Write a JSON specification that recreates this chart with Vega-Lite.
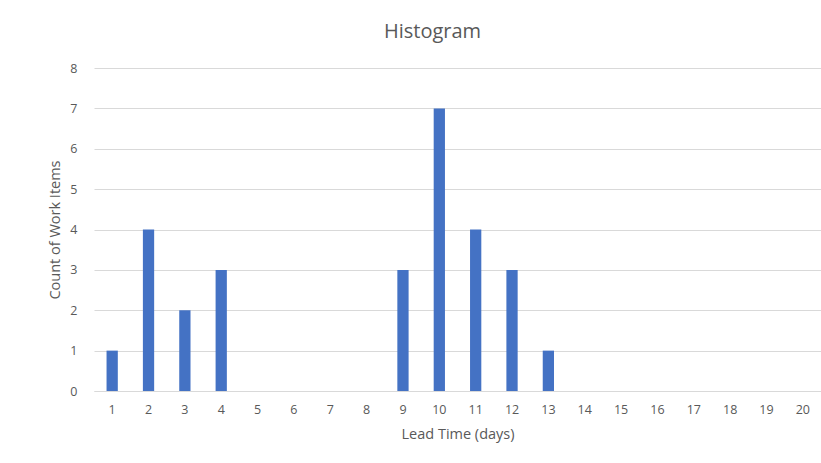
{
  "$schema": "https://vega.github.io/schema/vega-lite/v6.json",
  "autosize": {"type": "none"},
  "width": 727,
  "height": 323,
  "padding": {"left": 94, "top": 68, "right": 0, "bottom": 72},
  "background": "white",
  "title": {
    "text": "Histogram",
    "fontSize": 20,
    "font": "Open Sans",
    "fontWeight": "normal",
    "color": "#595959",
    "anchor": "middle",
    "dx": -25,
    "offset": 20
  },
  "data": {
    "values": [
      {"lead": 1, "count": 1}, {"lead": 2, "count": 4}, {"lead": 3, "count": 2},
      {"lead": 4, "count": 3}, {"lead": 5, "count": 0}, {"lead": 6, "count": 0},
      {"lead": 7, "count": 0}, {"lead": 8, "count": 0}, {"lead": 9, "count": 3},
      {"lead": 10, "count": 7}, {"lead": 11, "count": 4}, {"lead": 12, "count": 3},
      {"lead": 13, "count": 1}, {"lead": 14, "count": 0}, {"lead": 15, "count": 0},
      {"lead": 16, "count": 0}, {"lead": 17, "count": 0}, {"lead": 18, "count": 0},
      {"lead": 19, "count": 0}, {"lead": 20, "count": 0}
    ]
  },
  "mark": {"type": "bar", "color": "#4472C4"},
  "encoding": {
    "x": {
      "field": "lead",
      "type": "ordinal",
      "title": "Lead Time (days)",
      "scale": {"paddingInner": 0.69, "paddingOuter": 0.345},
      "axis": {
        "labelAngle": 0,
        "ticks": false,
        "domainColor": "#d9d9d9",
        "labelPadding": 12,
        "titlePadding": 12
      }
    },
    "y": {
      "field": "count",
      "type": "quantitative",
      "title": "Count of Work Items",
      "scale": {"domain": [0, 8]},
      "axis": {
        "values": [0, 1, 2, 3, 4, 5, 6, 7, 8],
        "domain": false,
        "ticks": false,
        "labelPadding": 17,
        "titlePadding": 7,
        "gridColor": "#d9d9d9"
      }
    }
  },
  "config": {
    "view": {"stroke": null},
    "axis": {
      "labelFont": "Open Sans",
      "titleFont": "Open Sans",
      "labelFontSize": 12.5,
      "titleFontSize": 14.5,
      "titleFontWeight": "normal",
      "labelColor": "#595959",
      "titleColor": "#595959",
      "gridColor": "#d9d9d9"
    }
  }
}
